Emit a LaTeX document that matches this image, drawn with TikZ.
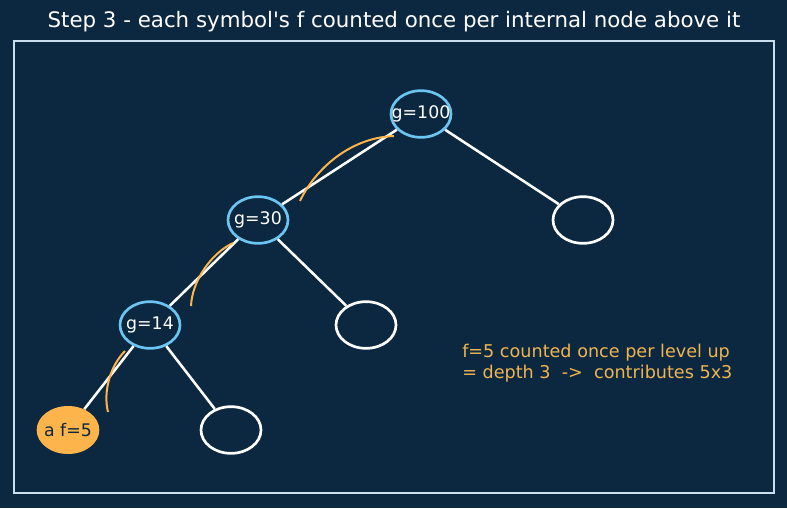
\documentclass[tikz,border=0pt]{standalone}
\usepackage{fontspec}
\setmainfont{DejaVu Sans}
\usetikzlibrary{shapes.geometric}
\definecolor{bgnavy}{RGB}{12,40,64}
\definecolor{framec}{RGB}{200,222,238}
\definecolor{nodeblue}{RGB}{108,196,240}
\definecolor{orangef}{RGB}{253,180,75}
\definecolor{orangetxt}{RGB}{240,180,80}
\tikzset{
  nodefont/.style={font=\fontsize{13}{15}\selectfont},
  tnode/.style={ellipse, draw=nodeblue, line width=2pt, minimum width=45pt, minimum height=35pt, inner sep=0pt},
  tlabel/.style={text=white, nodefont, inner sep=0pt},
  leafnode/.style={ellipse, draw=white, line width=2pt, minimum width=45pt, minimum height=35pt, inner sep=0pt},
  symnode/.style={ellipse, fill=orangef, minimum width=47pt, minimum height=36pt, inner sep=0pt},
  edge/.style={draw=white, line width=1.9pt},
  arcmark/.style={draw=orangef, line width=1.5pt}
}
\begin{document}
\begin{tikzpicture}[x=0.75pt,y=-0.75pt]
\fill[bgnavy] (0,0) rectangle (787,508);
\useasboundingbox (0,0) rectangle (787,508);
\draw[framec, line width=1.2pt] (14,41) rectangle (774,493);
\node[text=white, font=\fontsize{16}{18}\selectfont] (title) at (394,22) {Step 3 - each symbol\textquotesingle s f counted once per internal node above it};

\node[tnode, label={[tlabel]center:g=100}] (n100) at (421,114) {};
\node[tnode, label={[tlabel]center:g=30}] (n30) at (258,220) {};
\node[tnode, label={[tlabel]center:g=14}] (n14) at (150,325) {};
\node[symnode, label={[tlabel, text=bgnavy]center:a f=5}] (a) at (68,430) {};
\node[leafnode] (r1) at (583,220) {};
\node[leafnode] (r2) at (366,325) {};
\node[leafnode] (r3) at (231,430) {};

\draw[edge] (n100) -- (n30);
\draw[edge] (n100) -- (r1);
\draw[edge] (n30) -- (n14);
\draw[edge] (n30) -- (r2);
\draw[edge] (n14) -- (a);
\draw[edge] (n14) -- (r3);

\coordinate (s1) at (394,136); \coordinate (e1) at (300,201);
\coordinate (s2) at (233,243); \coordinate (e2) at (191,306);
\coordinate (s3) at (125,351); \coordinate (e3) at (108,412);
\draw[arcmark] (s1) .. controls (345,138) and (312,175) .. (e1);
\draw[arcmark] (s2) .. controls (210,254) and (192,282) .. (e2);
\draw[arcmark] (s3) .. controls (110,366) and (103,392) .. (e3);

\node[text=orangetxt, font=\fontsize{13.2}{15.75}\selectfont, align=left, anchor=west, inner sep=0pt] (note) at (462,363) {f=5 counted once per level up\\= depth 3\ \ ->\ \ contributes 5x3};
\end{tikzpicture}
\end{document}
